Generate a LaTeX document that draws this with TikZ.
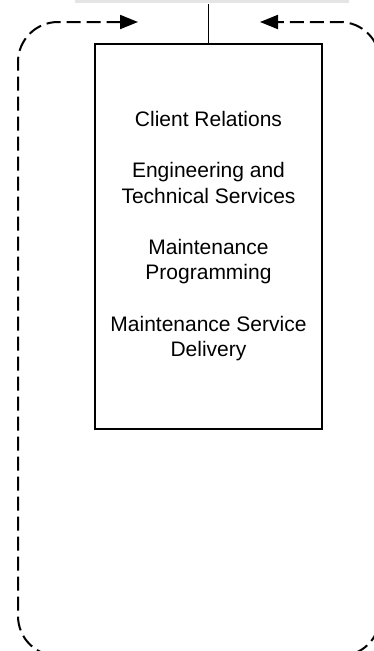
\documentclass[tikz,border=0pt]{standalone}
\usepackage{fontspec}
\setmainfont{Liberation Sans}
\usetikzlibrary{arrows.meta}

\begin{document}
\begin{tikzpicture}[x=1pt, y=-1pt, line width=2pt]
        \useasboundingbox (0,0) rectangle (374,651);
        \clip (0,0) rectangle (374,651);

        \node (head) [fill=black!10, minimum width=274pt, minimum height=40pt, inner sep=0pt] at (212,-16.7) {};

        \node (units) [draw, align=center, minimum width=227pt, minimum height=385pt, font=\fontsize{21}{25.6}\selectfont] at (208.5,236)
                {Client Relations\\[25.6pt]Engineering and\\Technical Services\\[25.6pt]Maintenance\\Programming\\[25.6pt]Maintenance Service\\Delivery};

        \draw [line width=1.7pt] (units.north) -- (units.north |- head.south);

        \coordinate (loopin) at (138,22);
        \coordinate (loopout) at (260,22);
        \draw [dash pattern=on 14pt off 6pt, rounded corners=40pt, {Triangle[length=18pt,width=14pt]}-{Triangle[length=18pt,width=14pt]}]
                (loopin) -- (18,22) -- (18,656) -- (380,656) -- (380,22) -- (loopout);
\end{tikzpicture}
\end{document}
